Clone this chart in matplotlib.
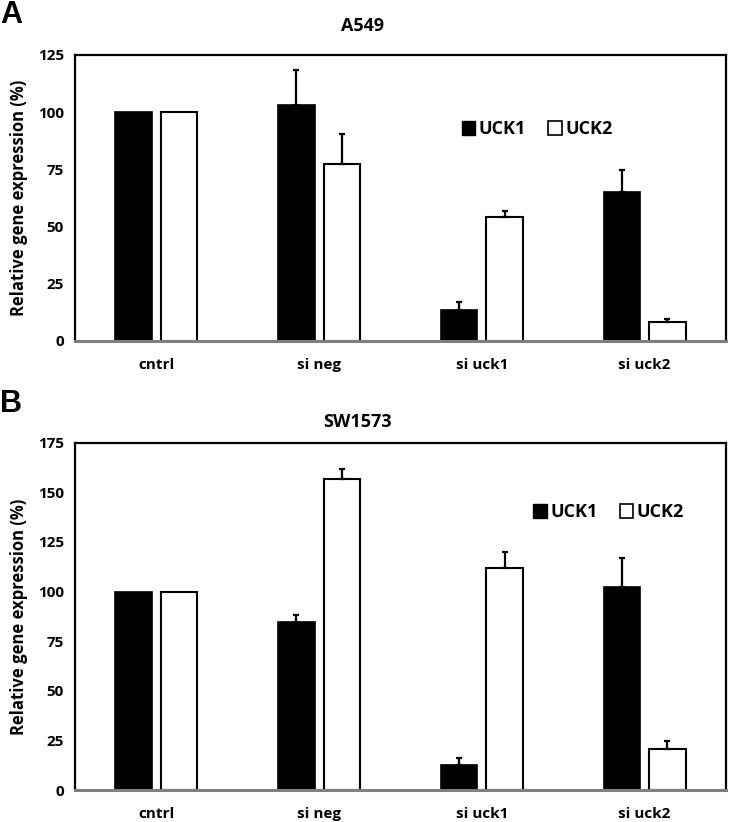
import numpy as np
import matplotlib.pyplot as plt
from matplotlib.patches import Patch

plt.rcParams['font.family'] = ['Open Sans', 'DejaVu Sans']
plt.rcParams['font.weight'] = 'bold'
plt.rcParams['axes.labelweight'] = 'bold'

categories = ['cntrl', 'si neg', 'si uck1', 'si uck2']

# panel A: A549
a549_uck1 = [100, 103, 13.5, 65.2]
a549_uck1_err = [0, 15.3, 3.6, 9.4]
a549_uck2 = [100, 77.5, 54.4, 8.3]
a549_uck2_err = [0, 13.0, 2.2, 1.5]

# panel B: SW1573
sw_uck1 = [100, 84.5, 12.8, 102.4]
sw_uck1_err = [0, 3.7, 3.5, 14.5]
sw_uck2 = [100, 156.5, 111.7, 20.5]
sw_uck2_err = [0, 5.4, 8.0, 4.0]


def draw_panel(ax, u1, e1, u2, e2, ymax, legend_pos):
    x = np.arange(len(categories))
    w = 0.225
    off = 0.14
    ax.bar(x - off, u1, w, color='black', edgecolor='black', linewidth=1.2)
    ax.bar(x + off, u2, w, color='white', edgecolor='black', linewidth=1.5)
    # only upper error bars, skip the control (no spread)
    for xs, vals, errs in [(x - off, u1, e1), (x + off, u2, e2)]:
        keep = np.array(errs) > 0
        ax.errorbar(xs[keep], np.array(vals)[keep],
                    yerr=[np.zeros(keep.sum()), np.array(errs)[keep]],
                    fmt='none', ecolor='black', elinewidth=1.6, capthick=1.6, capsize=2.5)
    ax.set_xlim(-0.5, 3.5)
    ax.set_ylim(0, ymax)
    ax.set_yticks(np.arange(0, ymax + 1, 25))
    ax.set_xticks(x)
    ax.set_xticklabels(categories)
    ax.tick_params(length=0, labelsize=11, pad=8)
    ax.tick_params(axis='x', pad=12)
    for s in ['top', 'left', 'right']:
        ax.spines[s].set_linewidth(1.6)
        ax.spines[s].set_color('black')
    ax.spines['bottom'].set_linewidth(2.2)
    ax.spines['bottom'].set_color('#7f7f7f')
    ax.set_ylabel('Relative gene expression (%)', fontsize=12, labelpad=7)
    handles = [Patch(facecolor='black', edgecolor='black', label='UCK1'),
               Patch(facecolor='white', edgecolor='black', linewidth=1.2, label='UCK2')]
    ax.legend(handles=handles, loc='center', bbox_to_anchor=legend_pos, ncol=2,
              frameon=False, fontsize=13, handlelength=0.75, handleheight=0.75,
              handletextpad=0.2, columnspacing=1.2)


fig = plt.figure(figsize=(7.3, 8.22), dpi=100)
ax_a = fig.add_axes([0.1027, 0.5852, 0.8918, 0.3479])
ax_b = fig.add_axes([0.1027, 0.0389, 0.8918, 0.4225])

draw_panel(ax_a, a549_uck1, a549_uck1_err, a549_uck2, a549_uck2_err, 125, (0.71, 0.74))
draw_panel(ax_b, sw_uck1, sw_uck1_err, sw_uck2, sw_uck2_err, 175, (0.82, 0.80))

fig.text(0.497, 0.968, 'A549', ha='center', va='center', fontsize=13, fontweight='bold')
fig.text(0.490, 0.487, 'SW1573', ha='center', va='center', fontsize=13, fontweight='bold')
fig.text(0.0, 0.982, 'A', ha='left', va='center', fontsize=22, fontweight='bold',
         family=['Liberation Sans', 'DejaVu Sans'])
fig.text(0.0, 0.508, 'B', ha='left', va='center', fontsize=22, fontweight='bold',
         family=['Liberation Sans', 'DejaVu Sans'])

fig.savefig('out.png', dpi=100)
